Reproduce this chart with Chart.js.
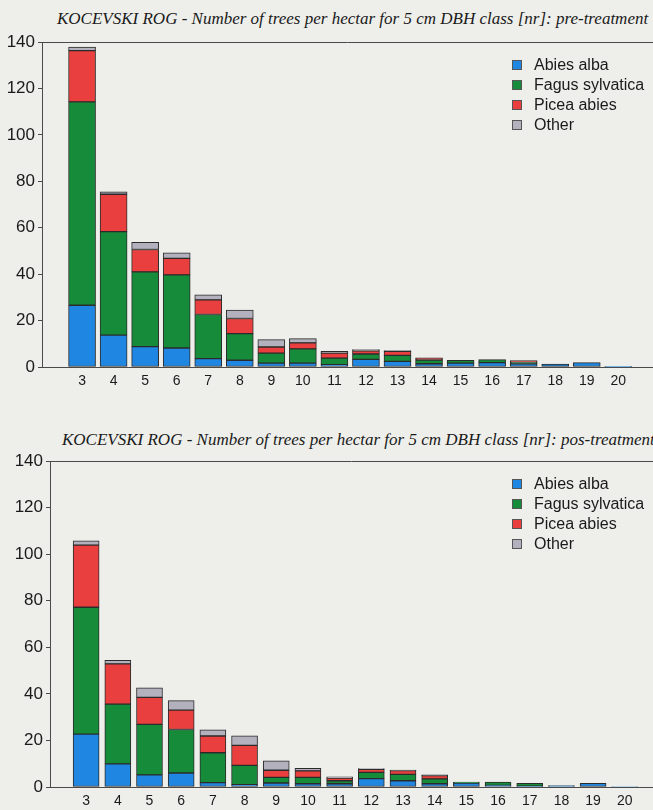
<!DOCTYPE html>
<html>
<head>
<meta charset="utf-8">
<script src="https://cdn.jsdelivr.net/npm/chart.js@4/dist/chart.umd.min.js"></script>
<style>
    html, body { margin: 0; padding: 0; }
    body {
        width: 653px; height: 810px; overflow: hidden; position: relative;
        background: #eeefeb; font-family: "Liberation Sans", Arial, sans-serif;
    }
    .chart-title {
        position: absolute; white-space: nowrap;
        font-family: "Liberation Serif", "Times New Roman", serif;
        font-style: italic; font-size: 17px; color: #1a1a1a;
    }
    .chart-box { position: absolute; left: 0; width: 653px; height: 395px; }
    .legend { position: absolute; font-size: 16px; color: #1a1a1a; line-height: 20px; }
    .legend-item { display: flex; align-items: center; white-space: nowrap; }
    .legend-swatch { width: 8px; height: 8px; border: 1px solid #555; }
</style>
</head>
<body>
<div class="chart-title" style="left:57px; top:9px;">KOCEVSKI ROG - Number of trees per hectar for 5 cm DBH class [nr]: pre-treatment</div>
<div class="chart-box" style="top:0px;"><canvas id="preChart"></canvas></div>
<div class="legend" id="preLegend" style="left:512px; top:55px;"></div>

<div class="chart-title" style="left:62px; top:430px;">KOCEVSKI ROG - Number of trees per hectar for 5 cm DBH class [nr]: pos-treatment</div>
<div class="chart-box" style="top:420px;"><canvas id="postChart"></canvas></div>
<div class="legend" id="postLegend" style="left:512px; top:474px;"></div>

<script>
// DBH classes (5 cm)
const classes = [3, 4, 5, 6, 7, 8, 9, 10, 11, 12, 13, 14, 15, 16, 17, 18, 19, 20];
const speciesNames = ['Abies alba', 'Fagus sylvatica', 'Picea abies', 'Other'];
const speciesColors = ['#1f86e2', '#168b3a', '#e9403f', '#b3b1bd'];
const yTicks = [0, 20, 40, 60, 80, 100, 120, 140];

// pre-treatment, trees/ha
const abiesPre = [26.6, 13.7, 8.8, 8.2, 3.6, 2.9, 1.7, 1.7, 1.0, 3.3, 2.4, 1.4, 1.7, 1.9, 1.4, 1.3, 1.9, 0.3];
const fagusPre = [87.6, 44.6, 32.2, 31.5, 19.0, 11.5, 4.3, 6.1, 2.8, 2.3, 2.6, 1.6, 1.2, 1.3, 0.7, null, null, null];
const piceaPre = [22.1, 16.1, 9.6, 7.1, 6.3, 6.5, 2.6, 2.6, 2.2, 1.4, 1.7, 0.9, null, null, 0.7, null, null, null];
const otherPre = [1.5, 1.1, 3.1, 2.4, 2.2, 3.6, 3.2, 1.8, 0.7, 0.5, 0.4, null, null, null, null, null, null, null];

// post-treatment, trees/ha
const abiesPost = [22.7, 9.9, 5.2, 6.0, 1.9, 1.0, 1.7, 1.4, 1.4, 3.6, 2.7, 1.4, 1.7, 0.7, 0.4, 0.6, 1.6, 0.2];
const fagusPost = [54.5, 25.7, 21.7, 18.7, 12.8, 8.3, 2.4, 2.7, 1.3, 2.7, 2.7, 2.1, 0.4, 1.4, 1.2, null, null, null];
const piceaPost = [26.7, 17.3, 11.6, 8.3, 7.2, 8.6, 3.1, 2.8, 1.1, 1.3, 1.6, 1.4, null, null, null, null, null, null];
const otherPost = [1.8, 1.5, 4.1, 4.1, 2.7, 4.1, 4.0, 1.1, 0.6, 0.3, 0.3, 0.3, null, null, null, null, null, null];

const axisColor = '#4a4a4a';

// line along the top of the plot frame
const topFrame = {
    id: 'topFrame',
    afterDraw(chart) {
        const { ctx, chartArea } = chart;
        ctx.save();
        ctx.strokeStyle = axisColor;
        ctx.lineWidth = 1;
        ctx.beginPath();
        ctx.moveTo(chartArea.left, chartArea.top + 0.5);
        ctx.lineTo(chartArea.right, chartArea.top + 0.5);
        ctx.stroke();
        ctx.restore();
    }
};

function renderLegend(id) {
    const el = document.getElementById(id);
    el.innerHTML = speciesNames.map((name, i) => `
        <div class="legend-item">
            <span class="legend-swatch" style="background:${speciesColors[i]}"></span>
            <span style="margin-left:12px">${name}</span>
        </div>`).join('');
}

function buildChart(canvasId, series, opt) {
    const datasets = series.map((values, i) => ({
        label: speciesNames[i],
        data: classes.map((c, k) => ({ x: c, y: values[k] })),
        backgroundColor: speciesColors[i],
        borderColor: '#2b2b2b',
        borderWidth: 1,
        borderSkipped: false,
        barThickness: opt.barWidth,
    }));

    return new Chart(document.getElementById(canvasId).getContext('2d'), {
        type: 'bar',
        data: { datasets },
        plugins: [topFrame],
        options: {
            responsive: true,
            maintainAspectRatio: false,
            animation: false,
            layout: { padding: { top: opt.padTop, left: 0, right: 0, bottom: 0 } },
            plugins: { legend: { display: false }, tooltip: { enabled: false } },
            scales: {
                x: {
                    type: 'linear',
                    stacked: true,
                    offset: false,
                    min: opt.xMin,
                    max: opt.xMax,
                    afterBuildTicks: axis => { axis.ticks = classes.map(v => ({ value: v })); },
                    afterFit: axis => { axis.height = 28; },
                    grid: { display: false, drawTicks: false, offset: false },
                    border: { display: true, color: axisColor },
                    ticks: {
                        padding: 6, autoSkip: false, maxRotation: 0,
                        color: '#1a1a1a',
                        font: { family: 'Liberation Sans', size: 14 },
                    },
                },
                y: {
                    stacked: true,
                    min: 0,
                    max: 140,
                    afterBuildTicks: axis => { axis.ticks = yTicks.map(v => ({ value: v })); },
                    afterFit: axis => { axis.width = opt.yWidth; },
                    grid: { drawOnChartArea: false, drawTicks: true, tickLength: 4, color: axisColor },
                    border: { display: true, color: axisColor },
                    ticks: {
                        padding: 3,
                        color: '#1a1a1a',
                        font: { family: 'Liberation Sans', size: 17 },
                    },
                },
            },
        },
    });
}

renderLegend('preLegend');
renderLegend('postLegend');

buildChart('preChart', [abiesPre, fagusPre, piceaPre, otherPre],
    { padTop: 42, yWidth: 42, xMin: 1.73, xMax: 21.1, barWidth: 27 });
buildChart('postChart', [abiesPost, fagusPost, piceaPost, otherPost],
    { padTop: 41, yWidth: 50, xMin: 1.86, xMax: 20.89, barWidth: 26 });
</script>
</body>
</html>
